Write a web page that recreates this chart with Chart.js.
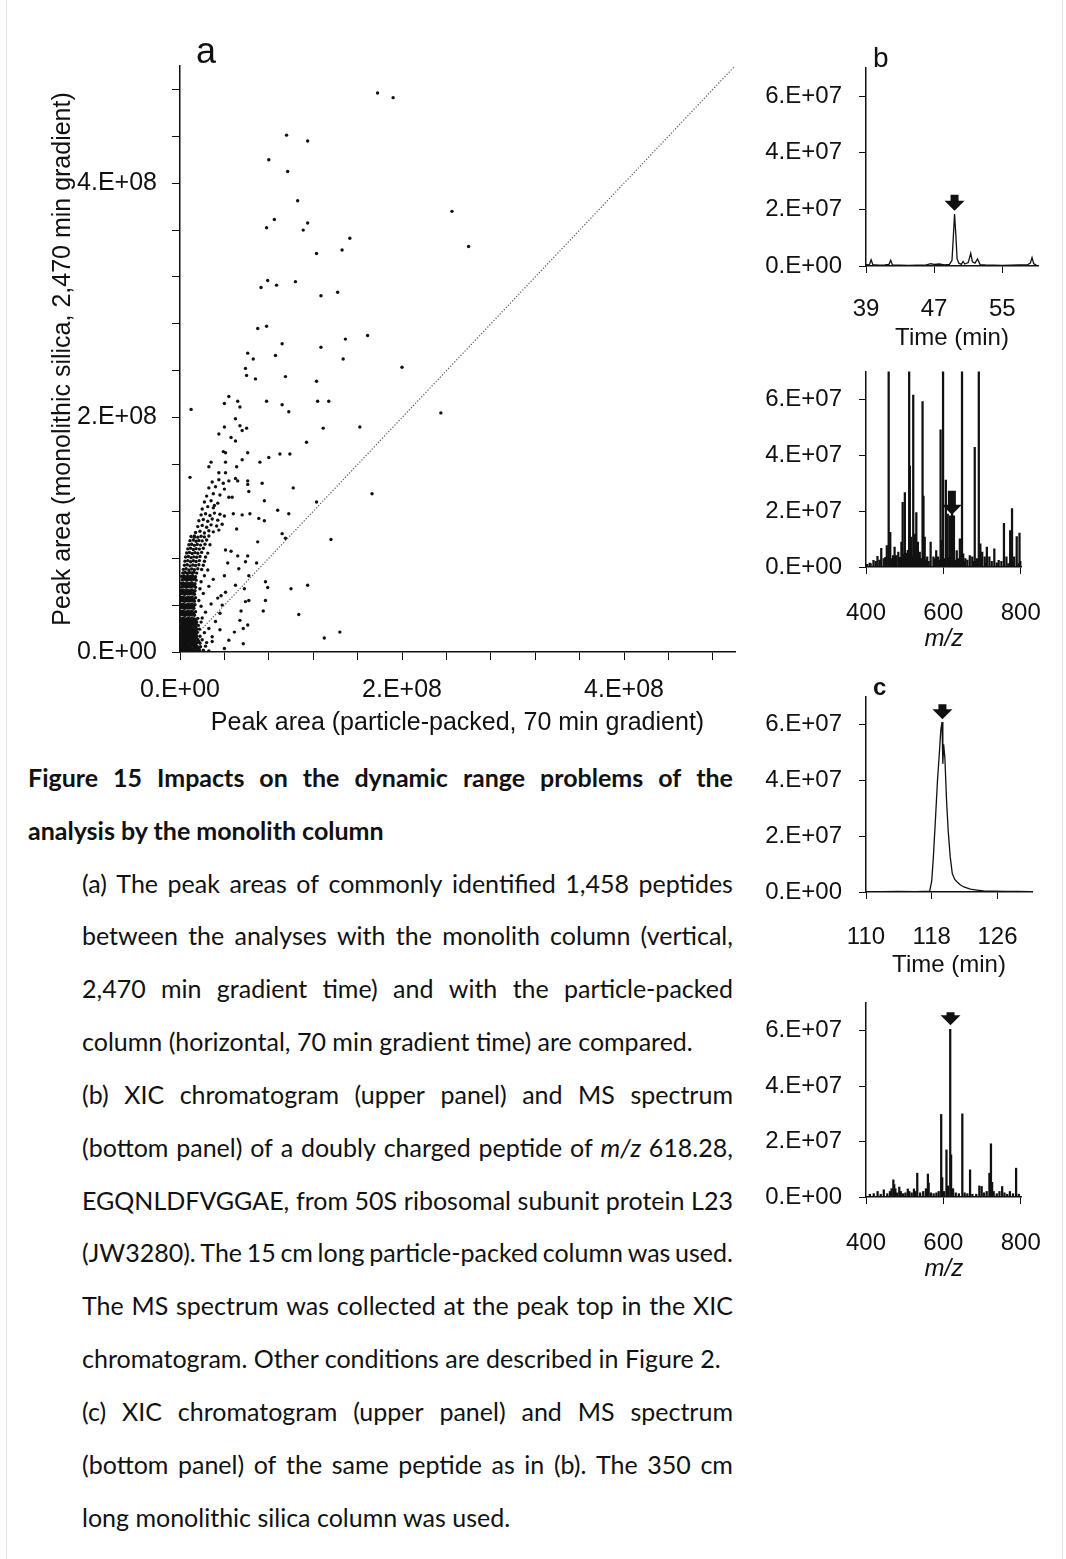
<!DOCTYPE html>
<html>
<head>
<meta charset="utf-8">
<script src="https://cdn.jsdelivr.net/npm/chart.js@4.4.1/dist/chart.umd.min.js"></script>
<style>
body { margin: 0; background: #fff; }
#page { position: relative; width: 1066px; height: 1559px; overflow: hidden; background: #fff; }
#page canvas { position: absolute; }
.frame { position: absolute; top: 0; width: 1px; height: 1559px; background: #e2e2e2; }
.lbl { position: absolute; font-family: "Liberation Sans", Arial, sans-serif; color: #111; line-height: 1; white-space: nowrap; }
.cap { position: absolute; font-family: Lato, "Open Sans", sans-serif; font-size: 25px; color: #111;
       height: 30px; line-height: 30px; white-space: nowrap; }
.cap.just { display: flex; justify-content: space-between; }
.cap.bold { font-weight: bold; }
</style>
</head>
<body>
<div id="page">
  <div class="frame" style="left:6px"></div>
  <div class="frame" style="left:1062px"></div>
  <canvas id="chartA" width="760" height="745" style="left:0;top:0"></canvas>
  <canvas id="chartB1" width="306" height="330" style="left:760px;top:30px"></canvas>
  <canvas id="chartB2" width="306" height="320" style="left:760px;top:340px"></canvas>
  <canvas id="chartC1" width="306" height="330" style="left:760px;top:660px"></canvas>
  <canvas id="chartC2" width="306" height="320" style="left:760px;top:970px"></canvas>
  <div class="lbl" style="left:196px;top:33px;font-size:36px">a</div>
  <div class="lbl" style="left:873px;top:44px;font-size:28px">b</div>
  <div class="lbl" style="left:873px;top:675px;font-size:24px;font-weight:bold">c</div>
  <div id="caption"></div>
</div>
<script>
// peak areas, units of 1E+07: [particle-packed 70 min, monolith 2,470 min]
const peakAreas = [
  // dense core near origin
  [0.05,0.15],[0.25,0.1],[0.45,0.2],[0.65,0.12],[0.85,0.18],[1.05,0.1],[1.25,0.16],[1.5,0.12],[1.75,0.2],[2.1,0.15],[2.6,0.1],
  [0.15,0.3],[0.35,0.32],[0.55,0.28],[0.75,0.33],[0.95,0.3],[1.15,0.27],[1.4,0.31],[1.65,0.3],
  [0.1,0.45],[0.3,0.5],[0.5,0.42],[0.7,0.48],[0.9,0.44],[1.1,0.5],[1.3,0.43],[1.55,0.47],[1.85,0.45],[2.3,0.5],
  [0.2,0.6],[0.4,0.62],[0.6,0.58],[0.8,0.63],[1.0,0.6],[1.2,0.57],[1.4,0.61],
  [0.05,0.75],[0.25,0.8],[0.45,0.72],[0.65,0.78],[0.85,0.74],[1.05,0.8],[1.25,0.73],[1.5,0.77],[1.8,0.75],
  [0.15,0.9],[0.35,0.92],[0.55,0.88],[0.75,0.93],[0.95,0.9],[1.15,0.87],[1.4,0.91],[1.7,0.9],
  [0.1,1.05],[0.3,1.1],[0.5,1.02],[0.7,1.08],[0.9,1.04],[1.1,1.1],[1.3,1.03],[1.6,1.07],[2.0,1.05],
  [0.2,1.2],[0.4,1.22],[0.6,1.18],[0.8,1.23],[1.0,1.2],[1.2,1.17],[1.45,1.21],
  [0.05,1.35],[0.25,1.4],[0.45,1.32],[0.65,1.38],[0.85,1.34],[1.05,1.4],[1.25,1.33],[1.5,1.37],[1.8,1.35],
  [0.15,1.5],[0.35,1.52],[0.55,1.48],[0.75,1.53],[0.95,1.5],[1.15,1.47],[1.4,1.51],
  [0.1,1.65],[0.3,1.7],[0.5,1.62],[0.7,1.68],[0.9,1.64],[1.1,1.7],[1.3,1.63],[1.55,1.67],[2.2,1.65],
  [0.2,1.8],[0.4,1.82],[0.6,1.78],[0.8,1.83],[1.0,1.8],[1.2,1.77],[1.45,1.81],
  [0.05,1.95],[0.25,2.0],[0.45,1.92],[0.65,1.98],[0.85,1.94],[1.05,2.0],[1.25,1.93],[1.5,1.97],[1.75,1.95],
  [0.15,2.1],[0.35,2.12],[0.55,2.08],[0.75,2.13],[0.95,2.1],[1.15,2.07],[1.4,2.11],
  [0.1,2.25],[0.3,2.3],[0.5,2.22],[0.7,2.28],[0.9,2.24],[1.1,2.3],[1.35,2.23],[1.65,2.27],
  [0.2,2.4],[0.4,2.42],[0.6,2.38],[0.8,2.43],[1.0,2.4],[1.2,2.37],[1.45,2.41],
  [0.05,2.55],[0.25,2.6],[0.45,2.52],[0.65,2.58],[0.85,2.54],[1.05,2.6],[1.25,2.53],[1.5,2.57],[1.9,2.55],
  [0.15,2.7],[0.35,2.72],[0.55,2.68],[0.75,2.73],[0.95,2.7],[1.15,2.67],[1.4,2.71],
  [0.1,2.85],[0.3,2.9],[0.5,2.82],[0.7,2.88],[0.9,2.84],[1.1,2.9],[1.3,2.83],[1.6,2.87],
  [0.05,3.15],[0.25,3.2],[0.45,3.12],[0.65,3.18],[0.85,3.14],[1.05,3.2],[1.3,3.13],
  [0.15,3.3],[0.35,3.32],[0.55,3.28],[0.75,3.33],[0.95,3.3],[1.2,3.31],
  [0.1,3.45],[0.3,3.5],[0.5,3.42],[0.7,3.48],[0.9,3.44],[1.1,3.5],[1.4,3.43],
  [0.05,3.75],[0.25,3.8],[0.45,3.72],[0.65,3.78],[0.85,3.74],[1.05,3.8],[1.25,3.73],
  [0.15,3.9],[0.35,3.92],[0.55,3.88],[0.75,3.93],[0.95,3.9],[1.2,3.91],
  [0.1,4.05],[0.3,4.1],[0.5,4.02],[0.7,4.08],[0.9,4.04],[1.1,4.1],[1.35,4.03],
  [0.05,4.35],[0.25,4.4],[0.45,4.32],[0.65,4.38],[0.85,4.34],[1.05,4.4],[1.3,4.33],
  [0.15,4.5],[0.35,4.52],[0.55,4.48],[0.75,4.53],[0.95,4.5],[1.2,4.51],
  [0.1,4.65],[0.3,4.7],[0.5,4.62],[0.7,4.68],[0.9,4.64],[1.1,4.7],[1.4,4.63],
  [0.05,4.95],[0.25,5.0],[0.45,4.92],[0.65,4.98],[0.85,4.94],[1.05,5.0],[1.3,4.93],
  [0.2,5.1],[0.4,5.12],[0.6,5.08],[0.8,5.13],[1.0,5.1],[1.25,5.11],
  [0.1,5.25],[0.3,5.3],[0.5,5.22],[0.7,5.28],[0.9,5.24],[1.1,5.3],[1.35,5.23],
  [0.15,5.55],[0.35,5.6],[0.55,5.52],[0.75,5.58],[0.95,5.54],[1.15,5.6],[1.4,5.53],
  [0.25,5.7],[0.45,5.72],[0.65,5.68],[0.85,5.73],[1.05,5.7],[1.3,5.71],
  [0.1,5.85],[0.3,5.9],[0.5,5.82],[0.7,5.88],[0.9,5.84],[1.1,5.9],[1.35,5.83],
  [0.2,6.15],[0.4,6.2],[0.6,6.12],[0.8,6.18],[1.0,6.14],[1.2,6.2],[1.45,6.13],
  [0.3,6.3],[0.5,6.32],[0.7,6.28],[0.9,6.33],[1.1,6.3],[1.35,6.31],
  [0.15,6.45],[0.35,6.5],[0.55,6.42],[0.75,6.48],[0.95,6.44],[1.15,6.5],[1.4,6.43],
  [0.25,6.75],[0.45,6.8],[0.65,6.72],[0.85,6.78],[1.05,6.74],[1.25,6.8],[1.5,6.73],
  [0.3,7.05],[0.55,7.1],[0.8,7.0],[1.05,7.08],[1.3,7.02],[1.6,7.1],[1.95,7.04],
  [0.4,7.4],[0.65,7.45],[0.9,7.35],[1.15,7.42],[1.4,7.38],[1.7,7.45],[2.1,7.4],
  [0.45,7.75],[0.7,7.8],[0.95,7.7],[1.2,7.78],[1.45,7.72],[1.75,7.8],[2.2,7.74],
  [0.5,8.1],[0.75,8.15],[1.0,8.05],[1.25,8.12],[1.5,8.08],[1.8,8.15],[2.3,8.1],
  [0.6,8.45],[0.85,8.5],[1.1,8.4],[1.35,8.48],[1.6,8.42],[1.95,8.5],[2.5,8.44],
  [0.7,8.8],[0.95,8.85],[1.2,8.75],[1.45,8.82],[1.75,8.78],[2.1,8.85],
  [0.8,9.15],[1.05,9.2],[1.3,9.1],[1.55,9.18],[1.85,9.12],[2.25,9.2],[2.7,9.15],
  [0.9,9.5],[1.2,9.55],[1.45,9.45],[1.7,9.52],[2.0,9.48],[2.4,9.55],
  [1.0,9.85],[1.3,9.9],[1.6,9.8],[1.9,9.88],[2.2,9.82],[2.6,9.9],
  [1.4,10.2],[1.8,10.3],[2.2,10.15],[2.6,10.35],[3.0,10.25],[3.5,10.4],
  [1.6,10.7],[2.0,10.8],[2.4,10.65],[2.8,10.85],[3.3,10.75],[3.8,10.9],
  [1.7,11.2],[2.1,11.3],[2.5,11.15],[2.9,11.35],[3.4,11.25],
  [1.9,11.7],[2.3,11.8],[2.7,11.65],[3.1,11.85],[3.6,11.75],[4.0,11.6],
  [2.0,12.2],[2.5,12.4],[3.0,12.3],[2.2,12.8],[2.8,12.9],[3.4,12.7],[2.4,13.3],[3.0,13.5],[3.6,13.4],
  [2.6,14.0],[3.2,14.1],[4.0,13.9],[2.9,14.5],[3.5,14.7],[4.4,14.6],
  // sparse points around the cluster
  [2.4,0.8],[2.9,1.3],[2.6,2.0],[3.2,2.6],[2.3,3.4],[2.8,4.1],[3.4,4.6],[2.1,5.0],[2.6,5.6],[3.0,6.2],
  [2.2,6.5],[3.6,3.3],[1.9,3.9],[2.0,2.9],[1.7,4.4],[1.8,5.4],[1.9,6.0],[2.5,7.0],
  [2.9,0.9],[4.0,0.3],[4.4,1.0],[5.7,0.7],[3.6,1.9],[4.9,1.7],[5.7,2.0],[6.1,2.3],[5.4,2.7],
  [3.8,4.0],[5.9,4.3],[7.7,4.4],[6.2,4.4],[7.5,3.5],[5.5,3.5],[10.7,3.2],[13.0,1.2],[14.4,1.7],
  [3.7,4.8],[4.1,5.1],[5.0,5.7],[5.8,5.4],[7.7,6.0],[7.9,5.5],[10.0,5.4],[11.5,5.7],[4.0,6.5],
  [6.2,6.5],[5.3,7.1],[4.3,7.6],[6.9,7.6],[5.9,7.7],[5.2,8.2],[6.1,8.2],[4.6,8.6],[4.1,8.7],
  [7.0,9.4],[9.2,10.1],[9.5,9.7],[13.6,9.6],[5.1,10.5],[1.3,9.8],[5.6,11.7],[6.3,11.8],[4.8,11.8],
  [7.1,11.4],[7.6,11.2],[9.8,11.8],[8.8,12.1],[12.3,12.8],[7.6,12.9],[4.4,13.2],[4.7,13.2],
  [3.1,12.5],[10.2,14.0],[7.4,14.4],[3.9,14.4],[6.1,14.6],[6.1,14.3],[6.2,13.7],[5.0,14.8],
  [5.2,14.6],[0.9,14.9],[3.5,15.3],[4.1,15.3],[17.3,13.5],
  // scattered high points
  [17.8,47.7],[19.2,47.3],[9.6,44.1],[11.5,43.6],[8.0,42.0],[9.7,41.0],[10.6,38.5],[8.5,36.9],
  [7.8,36.2],[11.5,36.6],[11.1,36.0],[15.3,35.3],[14.6,34.3],[12.3,34.0],[24.5,37.6],[26.0,34.6],
  [7.9,31.7],[7.3,31.1],[8.7,31.3],[10.4,31.6],[12.7,30.4],[14.2,30.7],[7.0,27.6],[7.8,27.8],
  [9.2,26.3],[12.7,26.0],[14.9,26.7],[16.9,27.0],[6.1,25.5],[6.6,25.0],[8.6,25.3],[14.7,25.0],
  [5.9,24.2],[6.0,23.6],[6.8,23.3],[9.5,23.5],[12.3,23.1],[20.0,24.3],[4.4,21.8],[4.0,21.2],
  [5.2,21.4],[5.4,20.9],[7.8,21.4],[9.2,21.1],[9.8,20.5],[12.4,21.4],[13.4,21.4],[1.0,20.7],
  [23.5,20.4],[5.0,19.9],[4.0,19.2],[5.4,19.3],[5.6,18.9],[6.0,19.1],[12.9,19.1],[16.2,19.2],
  [3.5,18.6],[4.6,18.3],[5.0,18.0],[11.4,17.9],[3.9,17.1],[4.1,17.0],[6.1,17.0],[9.0,16.9],
  [9.9,16.9],[8.0,16.6],[7.2,16.2],[5.6,16.4],[2.8,16.2],[4.1,16.2],[2.6,15.8],[5.1,15.8]
];
const diagonal = [0, 50];                                      // y = x reference line, 1E+07
const aTicks = [0, 4, 8, 12, 16, 20, 24, 28, 32, 36, 40, 44, 48]; // tick marks, 1E+07
const aLabelTicks = [0, 20, 40];                               // labelled ticks, 1E+07

// panel b: XIC (time, min / intensity 1E+07) and MS spectrum (m/z / intensity 1E+07)
const bTime = [39.0,39.4,39.6,39.8,40.5,41.2,41.7,41.9,42.1,43.0,44.0,45.0,46.0,46.6,47.0,47.6,48.2,48.8,49.1,49.25,
               49.4,49.55,49.7,49.9,50.2,50.4,50.6,51.0,51.3,51.5,51.8,52.1,52.4,53.0,54.0,55.0,56.0,57.0,58.0,58.3,
               58.5,58.7,59.0];
const bXic = [0.05,0.04,0.22,0.05,0.03,0.04,0.06,0.2,0.04,0.03,0.02,0.03,0.03,0.08,0.06,0.07,0.04,0.06,0.2,1.0,
              1.84,1.1,0.25,0.1,0.06,0.16,0.07,0.12,0.45,0.15,0.1,0.25,0.05,0.04,0.03,0.02,0.03,0.04,0.05,0.1,
              0.3,0.08,0.04];
const bMz = [403,409.6,412,419.3,425,429.7,435,439.4,445.8,450,453.8,458.6,462.7,465,469.9,473.9,476,478.7,483.5,488,
             491.6,494.8,497,500.4,503,506,508,511.6,513.3,516.5,519,522.1,525,526.1,530.1,532,534.1,539,542,546.2,
             548.6,551.8,555,558.2,562,567.1,574.3,578,581.5,586.3,590,592.8,596,599.2,603,606.4,611.2,614,616.9,620,
             622.5,627.3,630,634.5,638,642.6,646,648.2,651.4,655,657,662,668.3,674.7,678,681.1,685,686.7,691.6,695.6,
             698,700.4,706.8,710,712.4,718.9,725,731.7,738,743,750,756.6,763,768,772.7,777.5,780,783.1,789.6,795,
             796.8,799];
const bInt = [0.1,0.14,0.12,0.24,0.2,0.38,0.25,0.67,0.3,0.35,0.77,9,1.24,0.3,0.41,0.71,0.4,0.41,0.53,0.35,
              0.89,2.31,0.45,2.66,0.5,0.47,0.6,9,3.61,1.07,0.4,6.15,0.5,1.18,1.95,0.35,0.89,0.53,0.3,5.92,
              2.54,1.07,0.25,0.36,0.2,0.89,0.36,0.3,0.59,0.36,0.25,4.91,0.95,9,0.3,3.11,1.89,0.35,1.83,0.3,
              1.95,1.83,0.25,0.59,0.3,1.01,0.4,9,0.47,0.2,0.3,0.25,0.41,0.36,0.2,4.28,0.2,0.3,9,0.83,
              0.25,0.53,0.36,0.15,0.71,0.36,0.2,0.65,0.15,0.24,0.2,1.56,0.36,0.12,1.3,2.09,0.15,0.36,1.09,0.12,
              1.21,0.2];

// panel c: XIC and MS spectrum
const cTime = [110,112,114,116,117,117.5,117.75,118.0,118.2,118.45,118.7,118.95,119.1,119.25,119.35,119.45,119.6,119.8,
               120.0,120.25,120.5,120.8,121.1,121.5,121.9,122.7,123.5,124.3,125.5,127,128.5,130];
const cXic = [0.01,0.01,0.02,0.01,0.02,0.02,0.03,0.4,1.26,2.6,4.0,5.1,5.8,6.1,4.6,5.3,4.8,3.3,
              2.2,1.26,0.66,0.45,0.36,0.25,0.18,0.1,0.07,0.04,0.03,0.02,0.02,0.01];
const cMz = [410,420,430,438,446,455,462,466,470.7,473,476,480,486,490,496,502,508,512,518,524,528,532.5,540,548,555,
             560,562,568,575,582,588,594.4,597,602,608,612,617.7,620,625,632,640,649,655,662,669,675,685,693,699,705,
             712,719,721,723,726,730,738,745,752,758,765,772,780,788,795];
const cInt = [0.1,0.12,0.2,0.1,0.26,0.12,0.2,0.3,0.62,0.45,0.3,0.15,0.36,0.2,0.12,0.15,0.29,0.2,0.15,0.29,0.2,0.86,0.15,0.2,0.3,
              0.83,0.5,0.15,0.12,0.15,0.2,2.98,0.7,0.2,1.7,0.4,6.05,1.52,0.3,0.15,0.12,3.0,0.15,0.12,0.98,0.1,0.1,0.4,0.38,0.15,
              0.2,0.86,0.7,1.92,0.53,0.2,0.12,0.2,0.38,0.15,0.1,0.2,0.12,1.04,0.1];

// tick positions of the small panels
const bTimeTicks = [39, 47, 55];
const cTimeTicks = [110, 118, 126];
const mzTicks = [400, 600, 800];
const intTicks = [0, 2, 4, 6];   // 1E+07

// arrows marking the m/z 618.28 peptide: [x value, tip value (1E+07), length px]
const bXicArrow = [49.4, 1.95, 16];
const bSpecArrow = [622, 1.87, 24];
const cXicArrow = [119.3, 6.2, 15];
const cSpecArrow = [618.5, 6.2, 13];

const E7 = 1e7;
Chart.defaults.color = '#111';
Chart.defaults.font.family = '"Liberation Sans", Arial, sans-serif';
Chart.defaults.animation = false;

const arrowPlugin = {
  id: 'peakArrow',
  afterDatasetsDraw(chart, args, opts) {
    if (!opts || !opts.at) return;
    const ctx = chart.ctx;
    const px = chart.scales.x.getPixelForValue(opts.at[0]);
    const py = chart.scales.y.getPixelForValue(opts.at[1] * E7);
    const len = opts.at[2];
    ctx.save();
    ctx.fillStyle = '#111';
    ctx.beginPath();
    ctx.moveTo(px, py);
    ctx.lineTo(px - 10, py - 10);
    ctx.lineTo(px - 4, py - 10);
    ctx.lineTo(px - 4, py - len);
    ctx.lineTo(px + 4, py - len);
    ctx.lineTo(px + 4, py - 10);
    ctx.lineTo(px + 10, py - 10);
    ctx.closePath();
    ctx.fill();
    ctx.restore();
  }
};

function axisLook(tickLen) {
  return {
    grid: { drawOnChartArea: false, drawTicks: true, tickLength: tickLen, color: '#111', lineWidth: 1 },
    border: { display: true, color: '#111', width: 1.5 }
  };
}

function fixTicks(values, unit) {
  return scale => { scale.ticks = values.map(v => ({ value: v * unit })); };
}

function e7Label(v) {
  return v === 0 ? '0.E+00' : Math.round(v / E7) + '.E+07';
}

function e8Label(v) {
  if (!aLabelTicks.some(t => Math.abs(t * E7 - v) < 1)) return '';
  return v === 0 ? '0.E+00' : Math.round(v / 1e8) + '.E+08';
}

// ---- panel a: scatter
new Chart(document.getElementById('chartA'), {
  type: 'scatter',
  data: {
    datasets: [{
      data: peakAreas.map(p => ({ x: p[0] * E7, y: p[1] * E7 })),
      backgroundColor: '#111', borderWidth: 0, pointRadius: 1.7, pointHoverRadius: 1.7
    }, {
      type: 'line',
      data: [{ x: diagonal[0] * E7, y: diagonal[0] * E7 }, { x: diagonal[1] * E7, y: diagonal[1] * E7 }],
      borderColor: '#555', borderWidth: 1.2, borderDash: [1.2, 1.8], pointRadius: 0
    }]
  },
  options: {
    responsive: false, devicePixelRatio: 1,
    layout: { padding: { top: 66, right: 25, left: 0, bottom: 0 } },
    plugins: { legend: { display: false }, tooltip: { enabled: false } },
    scales: {
      x: {
        type: 'linear', min: 0, max: 5e8,
        ...axisLook(8),
        afterFit: s => { s.height = 93; },
        afterBuildTicks: fixTicks(aTicks, E7),
        ticks: { autoSkip: false, maxRotation: 0, padding: 15, font: { size: 25 }, callback: e8Label },
        title: { display: true, text: 'Peak area (particle-packed, 70 min gradient)', font: { size: 25 },
                 padding: { top: 0, bottom: 7 } }
      },
      y: {
        type: 'linear', min: 0, max: 5e8,
        ...axisLook(8),
        afterFit: s => { s.width = 180; },
        afterBuildTicks: fixTicks(aTicks, E7),
        ticks: { autoSkip: false, padding: 15, font: { size: 25 }, callback: e8Label },
        title: { display: true, text: 'Peak area (monolithic silica, 2,470 min gradient)', font: { size: 25 },
                 padding: { top: 48, bottom: 0 } }
      }
    }
  }
});

// ---- small panels
function smallPanel(id, type, xs, ys, xOpts, title, pad, arrow) {
  const isBar = type === 'bar';
  new Chart(document.getElementById(id), {
    type: type,
    data: {
      datasets: [{
        data: xs.map((x, i) => ({ x: x, y: ys[i] * E7 })),
        backgroundColor: '#111', borderColor: '#111',
        borderWidth: isBar ? 0 : 1.3, pointRadius: 0, tension: 0,
        barThickness: 1.6, clip: 0
      }]
    },
    options: {
      responsive: false, devicePixelRatio: 1,
      layout: { padding: pad.layout },
      plugins: { legend: { display: false }, tooltip: { enabled: false }, peakArrow: { at: arrow } },
      scales: {
        x: {
          type: 'linear', min: xOpts.min, max: xOpts.max, offset: false,
          ...axisLook(7),
          grid: { drawOnChartArea: false, drawTicks: true, tickLength: 7, color: '#111', lineWidth: 1, offset: false },
          afterFit: s => { s.height = pad.xHeight; },
          afterBuildTicks: fixTicks(xOpts.ticks, 1),
          ticks: { autoSkip: false, maxRotation: 0, padding: pad.xTick, font: { size: 24 } },
          title: { display: true, text: title, font: { size: 24, style: title === 'm/z' ? 'italic' : 'normal' },
                   padding: { top: 0, bottom: pad.title } }
        },
        y: {
          type: 'linear', min: 0, max: 7 * E7,
          ...axisLook(7),
          afterFit: s => { s.width = 106; },
          afterBuildTicks: fixTicks(intTicks, E7),
          ticks: { autoSkip: false, padding: 17, font: { size: 24 }, callback: e7Label }
        }
      }
    },
    plugins: [arrowPlugin]
  });
}

smallPanel('chartB1', 'line', bTime, bXic, { min: 39, max: 59.2, ticks: bTimeTicks }, 'Time (min)',
  { layout: { top: 38, right: 28, left: 0, bottom: 0 }, xHeight: 94, xTick: 22, title: 7 }, bXicArrow);
smallPanel('chartB2', 'bar', bMz, bInt, { min: 400, max: 803, ticks: mzTicks }, 'm/z',
  { layout: { top: 30, right: 32, left: 0, bottom: 0 }, xHeight: 93, xTick: 25, title: 6 }, bSpecArrow);
smallPanel('chartC1', 'line', cTime, cXic, { min: 110, max: 130.2, ticks: cTimeTicks }, 'Time (min)',
  { layout: { top: 37, right: 34, left: 0, bottom: 0 }, xHeight: 98, xTick: 24, title: 10 }, cXicArrow);
smallPanel('chartC2', 'bar', cMz, cInt, { min: 400, max: 803, ticks: mzTicks }, 'm/z',
  { layout: { top: 33, right: 32, left: 0, bottom: 0 }, xHeight: 93, xTick: 25, title: 6 }, cSpecArrow);

// ---- caption
const captionLines = [
  ['Figure 15 Impacts on the dynamic range problems of the', 28, 'bold just'],
  ['analysis by the monolith column', 28, 'bold'],
  ['(a) The peak areas of commonly identified 1,458 peptides', 82, 'just'],
  ['between the analyses with the monolith column (vertical,', 82, 'just'],
  ['2,470 min gradient time) and with the particle-packed', 82, 'just'],
  ['column (horizontal, 70 min gradient time) are compared.', 82, ''],
  ['(b) XIC chromatogram (upper panel) and MS spectrum', 82, 'just'],
  ['(bottom panel) of a doubly charged peptide of m/z 618.28,', 82, 'just'],
  ['EGQNLDFVGGAE, from 50S ribosomal subunit protein L23', 82, 'just'],
  ['(JW3280). The 15 cm long particle-packed column was used.', 82, 'just'],
  ['The MS spectrum was collected at the peak top in the XIC', 82, 'just'],
  ['chromatogram. Other conditions are described in Figure 2.', 82, ''],
  ['(c) XIC chromatogram (upper panel) and MS spectrum', 82, 'just'],
  ['(bottom panel) of the same peptide as in (b). The 350 cm', 82, 'just'],
  ['long monolithic silica column was used.', 82, '']
];
const cap = document.getElementById('caption');
captionLines.forEach((line, i) => {
  const div = document.createElement('div');
  div.className = 'cap ' + line[2];
  div.style.left = line[1] + 'px';
  div.style.top = (777 + i * 52.83 - 15) + 'px';
  if (line[2].indexOf('just') >= 0) div.style.width = (733 - line[1]) + 'px';
  const words = line[0].split(' ').map(w => w === 'm/z' ? '<i>m/z</i>' : w);
  div.innerHTML = line[2].indexOf('just') >= 0
    ? words.map(w => '<span>' + w + '</span>').join('')
    : words.join(' ');
  cap.appendChild(div);
});
</script>
</body>
</html>
